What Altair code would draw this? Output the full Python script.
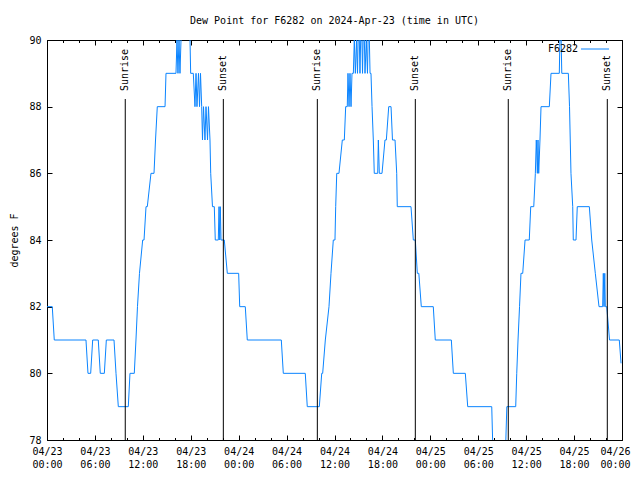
import altair as alt
import pandas as pd

# ---------------- data (hours after 2024-04-23 00:00 UTC, dew point degF) ----------------
night1_h = [0.00, 0.66, 0.91, 4.88, 5.13, 5.47, 5.72, 6.42, 6.67, 7.18, 7.43, 8.39, 8.64, 8.93,
            10.18, 10.39, 10.93]
night1_v = [82, 82, 81, 81, 80, 80, 81, 81, 80, 80, 81, 81, 80, 79,
            79, 80, 80]

day1_h = [11.14, 11.33, 11.58, 11.98, 12.15, 12.40, 12.56, 13.02, 13.40, 13.59, 13.81, 14.78, 14.90,
          16.15, 16.28, 16.40, 16.53, 16.65, 16.78, 16.90, 17.78, 17.91, 17.99, 18.32, 18.53, 18.66,
          18.78, 18.97, 19.10, 19.22, 19.37, 19.47, 19.60, 19.78, 19.91, 20.10, 20.22, 20.41, 20.50,
          20.72, 20.95, 21.07, 21.45, 21.54, 21.63, 21.70, 21.79, 22.20, 22.58]
day1_v = [81, 82, 83, 84, 84, 85, 85, 86, 86, 87, 88, 88, 89,
          89, 90, 89, 90, 89, 90, 91, 91, 90, 89, 89, 88, 89,
          88, 89, 88, 89, 88, 87, 88, 87, 88, 87, 88, 87, 86,
          85, 85, 84, 84, 85, 84, 85, 84, 84, 83]

night2_h = [24.00, 24.13, 24.83, 25.08, 29.34, 29.59, 32.34, 32.59, 34.10, 34.40, 34.52]
night2_v = [83, 82, 82, 81, 81, 80, 80, 79, 79, 80, 80]

day2_h = [34.85, 35.31, 35.56, 35.85, 36.06, 36.15, 36.28, 36.56, 36.98, 37.23, 37.40, 37.60, 37.69,
          37.82, 37.94, 38.07, 38.19, 38.36, 38.48, 38.61, 38.76, 38.88, 39.03, 39.19, 39.36, 39.51,
          39.66, 39.82, 39.98, 40.13, 40.28, 40.45, 40.57, 40.70, 40.86, 40.98, 41.41, 41.49, 41.61,
          41.95, 42.32, 42.49, 42.79, 43.08, 43.26, 43.58, 43.79, 43.86, 45.58, 45.87, 46.12, 46.37,
          46.56, 46.87]
day2_v = [81, 82, 83, 84, 84, 85, 86, 86, 87, 87, 88, 88, 89,
          88, 89, 88, 89, 89, 90, 89, 90, 89, 91, 89, 91, 89,
          91, 89, 90, 89, 91, 89, 89, 88, 87, 86, 86, 87, 86,
          86, 87, 87, 88, 88, 87, 87, 86, 85, 85, 84, 84, 83,
          83, 82]

night3_h = [48.37, 48.62, 50.63, 50.88, 52.38, 52.68, 55.69, 55.91, 57.33, 57.58, 58.69]
night3_v = [82, 81, 81, 80, 80, 79, 79, 77, 77, 79, 79]

day3_h = [58.82, 58.98, 59.17, 59.35, 59.57, 59.86, 60.39, 60.57, 60.95, 61.15, 61.27, 61.40, 61.48,
          61.57, 61.73, 61.86, 62.90, 63.11, 64.15, 64.30, 64.46, 65.28, 65.43, 65.61, 65.83, 65.90,
          66.24, 66.40, 67.91, 68.21, 68.66, 69.12, 69.58, 69.66, 69.75, 69.84, 69.91, 70.09, 70.44,
          71.66, 71.88]
day3_v = [80, 81, 82, 83, 83, 84, 84, 85, 85, 86, 87, 86, 87,
          86, 87, 88, 88, 89, 89, 91, 89, 89, 88, 86, 85, 84,
          84, 85, 85, 84, 83, 82, 82, 83, 82, 83, 82, 82, 81,
          81, 80.3]

sun_hours = [9.80, 22.08, 33.85, 46.12, 57.76, 70.16]
sun_labels = ["Sunrise", "Sunset", "Sunrise", "Sunset", "Sunrise", "Sunset"]

x_major = [0, 6, 12, 18, 24, 30, 36, 42, 48, 54, 60, 66, 72]
x_minor = list(range(0, 73, 2))
x_tick_dates = ["04/23"] * 4 + ["04/24"] * 4 + ["04/25"] * 4 + ["04/26"]
x_tick_times = ["00:00", "06:00", "12:00", "18:00"] * 3 + ["00:00"]
y_ticks = [78, 80, 82, 84, 86, 88, 90]

series_name = "F6282"
title_text = "Dew Point for F6282 on 2024-Apr-23 (time in UTC)"

# ---------------- build ----------------
hours = night1_h + day1_h + night2_h + day2_h + night3_h + day3_h
values = night1_v + day1_v + night2_v + day2_v + night3_v + day3_v
assert len(hours) == len(values)
dew = pd.DataFrame({"h": hours, "dp": values})
sun = pd.DataFrame({"h": sun_hours, "lbl": sun_labels})

FONT = "DejaVu Sans Mono"
LINE = "#0a84ff"
xs = alt.Scale(domain=[0, 72], nice=False, zero=False)
ys = alt.Scale(domain=[78, 90], nice=False, zero=False)

label_expr = "[" + ",".join(
    f"['{d}','{t}']" for d, t in zip(x_tick_dates, x_tick_times)
) + "][round(datum.value/6)]"

label_style = dict(labelFont=FONT, labelFontSize=10, labelColor="black", labelPadding=6,
                   labelLineHeight=13, labelBaseline="top", labelFlush=False,
                   labelOverlap=False, labelExpr=label_expr)


def tick_axis(orient, vals, size):
    return alt.Axis(orient=orient, values=vals, ticks=True, tickSize=size, offset=-size,
                    tickColor="black", tickWidth=1, domain=False, labels=False,
                    grid=False, title=None)


line = alt.Chart(dew).mark_line(color=LINE, strokeWidth=1, clip=True).encode(
    x=alt.X("h:Q", scale=xs, axis=alt.Axis(
        orient="bottom", values=x_major[:-1], ticks=False, domain=False,
        grid=False, title=None, **label_style)),
    y=alt.Y("dp:Q", scale=ys, axis=alt.Axis(
        orient="left", values=y_ticks, ticks=False, domain=False, grid=False,
        title="degrees F", titleFont=FONT, titleFontSize=10, titleFontWeight="normal",
        titleColor="black", titleX=-33, titleY=200, titleAngle=270, titleAlign="center",
        titleBaseline="middle", labelFont=FONT, labelFontSize=10, labelColor="black",
        labelPadding=6)),
    order=alt.Order("h:Q"),
)

inv = alt.Chart(dew).mark_point(opacity=0, clip=True)
t1 = inv.encode(x=alt.X("h:Q", scale=xs, axis=tick_axis("bottom", x_major, 5)),
                y=alt.Y("dp:Q", scale=ys, axis=tick_axis("left", y_ticks, 5)))
t2 = inv.encode(x=alt.X("h:Q", scale=xs, axis=tick_axis("bottom", x_minor, 2.5)),
                y=alt.Y("dp:Q", scale=ys, axis=tick_axis("right", y_ticks, 5)))
t3 = inv.encode(x=alt.X("h:Q", scale=xs, axis=tick_axis("top", x_major, 5)),
                y=alt.Y("dp:Q", scale=ys, axis=None))
t4 = inv.encode(x=alt.X("h:Q", scale=xs, axis=tick_axis("top", x_minor, 2.5)),
                y=alt.Y("dp:Q", scale=ys, axis=None))
# last date label, pulled in so that it stays inside the page
t5 = inv.encode(x=alt.X("h:Q", scale=xs, axis=alt.Axis(
    orient="bottom", values=x_major[-1:], ticks=False, domain=False, grid=False, title=None,
    labelAlign="right", labelOffset=8, **label_style)),
    y=alt.Y("dp:Q", scale=ys, axis=None))

sun_rules = alt.Chart(sun).mark_rule(color="black", strokeWidth=1).encode(
    x=alt.X("h:Q", scale=xs, axis=None), y=alt.value(59), y2=alt.value(400))
sun_text = alt.Chart(sun).mark_text(angle=270, align="left", baseline="middle", font=FONT,
                                    fontSize=10, color="black", dx=1).encode(
    x=alt.X("h:Q", scale=xs, axis=None), y=alt.value(52), text="lbl:N")

leg_text = alt.Chart(pd.DataFrame({"lbl": [series_name]})).mark_text(
    align="right", baseline="middle", font=FONT, fontSize=10, color="black").encode(
    x=alt.value(531), y=alt.value(8.5), text="lbl:N")
leg_line = alt.Chart(pd.DataFrame({"lbl": [series_name]})).mark_rule(
    color=LINE, strokeWidth=1).encode(x=alt.value(534), x2=alt.value(562), y=alt.value(9))

chart = alt.layer(line, t1, t2, t3, t4, t5, sun_rules, sun_text, leg_text, leg_line).resolve_scale(
    x="shared", y="shared").resolve_axis(x="independent", y="independent").properties(
    width=575, height=400,
    padding={"left": 39, "top": 32, "right": 10, "bottom": 28},
    autosize=alt.AutoSizeParams(type="none"),
    background="white",
    title=alt.TitleParams(title_text, font=FONT, fontSize=10, fontWeight="normal",
                          color="black", anchor="middle", frame="group", offset=9),
).configure_view(stroke="black", strokeWidth=1)

chart.save("out.html", embed_options={"renderer": "svg", "actions": False})
